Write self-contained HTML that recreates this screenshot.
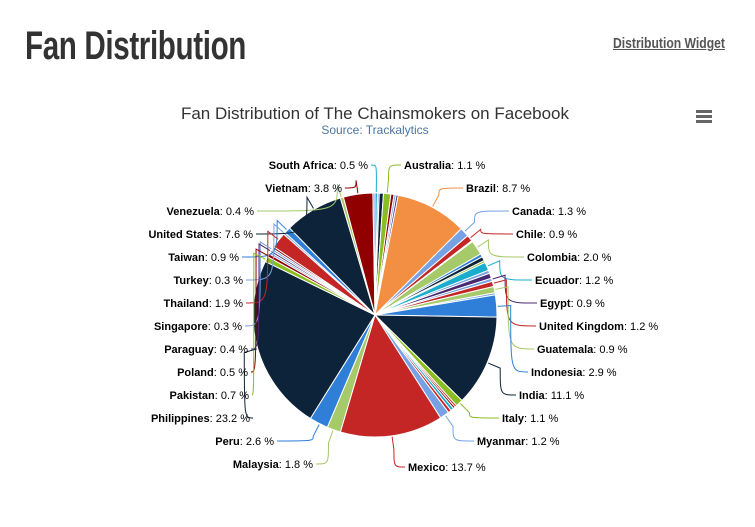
<!DOCTYPE html>
<html><head><meta charset="utf-8"><style>
body{margin:0;width:755px;height:527px;background:#fff;overflow:hidden;font-family:"Liberation Sans",sans-serif;position:relative}
h1{position:absolute;left:25px;top:24px;margin:0;font-family:"Liberation Sans Narrow","Liberation Sans",sans-serif;font-stretch:condensed;font-size:40px;font-weight:bold;color:#333;letter-spacing:-0.5px;transform:scaleX(0.74);transform-origin:left}
a{position:absolute;left:613px;top:35px;font-family:"Liberation Sans Narrow","Liberation Sans",sans-serif;font-stretch:condensed;font-weight:bold;font-size:15px;color:#555;text-decoration:underline;transform:scaleX(0.81);transform-origin:left}
svg{position:absolute;left:0;top:0}
text{font-family:"Liberation Sans",sans-serif;font-size:11px;fill:#000}
text tspan.b{font-weight:bold}
</style></head><body>
<h1>Fan Distribution</h1>
<a>Distribution Widget</a>
<svg width="755" height="527" id="s">
<text x="375" y="119" text-anchor="middle" style="font-size:17px;fill:#333">Fan Distribution of The Chainsmokers on Facebook</text>
<text x="375" y="134" text-anchor="middle" style="font-size:12px;fill:#4d759e">Source: Trackalytics</text>
<rect x="696" y="110" width="16" height="3" fill="#666"/><rect x="696" y="115" width="16" height="3" fill="#666"/><rect x="696" y="120" width="16" height="3" fill="#666"/>
<g id="pie"></g><g id="con"></g>
<g>
<text x="404" y="169"><tspan class="b">Australia</tspan>: 1.1 %</text>
<text x="466" y="192"><tspan class="b">Brazil</tspan>: 8.7 %</text>
<text x="512" y="215"><tspan class="b">Canada</tspan>: 1.3 %</text>
<text x="516" y="238"><tspan class="b">Chile</tspan>: 0.9 %</text>
<text x="527" y="261"><tspan class="b">Colombia</tspan>: 2.0 %</text>
<text x="535" y="284"><tspan class="b">Ecuador</tspan>: 1.2 %</text>
<text x="540" y="307"><tspan class="b">Egypt</tspan>: 0.9 %</text>
<text x="539" y="330"><tspan class="b">United Kingdom</tspan>: 1.2 %</text>
<text x="537" y="353"><tspan class="b">Guatemala</tspan>: 0.9 %</text>
<text x="531" y="376"><tspan class="b">Indonesia</tspan>: 2.9 %</text>
<text x="519" y="399"><tspan class="b">India</tspan>: 11.1 %</text>
<text x="502" y="422"><tspan class="b">Italy</tspan>: 1.1 %</text>
<text x="477" y="445"><tspan class="b">Myanmar</tspan>: 1.2 %</text>
<text x="408" y="471"><tspan class="b">Mexico</tspan>: 13.7 %</text>
</g>
<g text-anchor="end">
<text x="368" y="169"><tspan class="b">South Africa</tspan>: 0.5 %</text>
<text x="342" y="192"><tspan class="b">Vietnam</tspan>: 3.8 %</text>
<text x="254" y="215"><tspan class="b">Venezuela</tspan>: 0.4 %</text>
<text x="253" y="238"><tspan class="b">United States</tspan>: 7.6 %</text>
<text x="239" y="261"><tspan class="b">Taiwan</tspan>: 0.9 %</text>
<text x="243" y="284"><tspan class="b">Turkey</tspan>: 0.3 %</text>
<text x="243" y="307"><tspan class="b">Thailand</tspan>: 1.9 %</text>
<text x="242" y="330"><tspan class="b">Singapore</tspan>: 0.3 %</text>
<text x="248" y="353"><tspan class="b">Paraguay</tspan>: 0.4 %</text>
<text x="248" y="376"><tspan class="b">Poland</tspan>: 0.5 %</text>
<text x="249" y="399"><tspan class="b">Pakistan</tspan>: 0.7 %</text>
<text x="250" y="422"><tspan class="b">Philippines</tspan>: 23.2 %</text>
<text x="274" y="445"><tspan class="b">Peru</tspan>: 2.6 %</text>
<text x="313" y="468"><tspan class="b">Malaysia</tspan>: 1.8 %</text>
</g>
</svg>
<script>
var N='#0d233a',R='#c42525',D='#910000',G='#8bbc21',L='#a6c96a',O='#f28f43',B='#2f7ed8',LB='#77a1e5',C='#1aadce',P='#492970';
var sl=[[0,1.2,C],[1.2,2,LB],[2,4,N],[4,7.5,G],[7.5,9,D],[9,10,LB],[10,11,P],[11,45,O],[45,49.5,LB],[49.5,52.5,R],[52.5,53,'#fff'],[53,60,L],[60,61.5,B],[61.5,63.5,N],[63.5,64.5,G],[64.5,68.5,C],[68.5,70,LB],[70,72.5,P],[72.5,74,LB],[74,76.5,R],[76.5,79.5,L],[79.5,80.5,LB],[80.5,91,B],[91,134.5,N],[134.5,138,G],[138,139,R],[139,140,D],[140,141.5,C],[141.5,143,R],[143,147.5,LB],[147.5,196.5,R],[196.5,203,L],[203,212,B],[212,296,N],[296,298.5,G],[298.5,300,D],[300,301,LB],[301,302,P],[302,303,LB],[303,304,D],[304,311.5,R],[311.5,312.5,LB],[312.5,315.5,B],[315.5,343.5,N],[343.5,345,L],[345,359,D],[359,360,LB]];
var cx=375,cy=315,r=122,ns='http://www.w3.org/2000/svg';
function pt(a,rr){var t=a*Math.PI/180;return [cx+rr*Math.sin(t),cy-rr*Math.cos(t)];}
var g=document.getElementById('pie');
sl.forEach(function(s){var a=pt(s[0],r),b=pt(s[1],r),lg=(s[1]-s[0])>180?1:0;
var p=document.createElementNS(ns,'path');p.setAttribute('d','M'+cx+','+cy+'L'+a[0]+','+a[1]+'A'+r+','+r+' 0 '+lg+' 1 '+b[0]+','+b[1]+'Z');
p.setAttribute('fill',s[2]);p.setAttribute('stroke','#fff');p.setAttribute('stroke-width','1');g.appendChild(p);});
var cons=[[401,165,5.7,G],[463,188,28,O],[509,211,47,LB],[513,234,51,R],[524,257,56.5,L],[532,280,66.5,C],[537,303,73,P],[536,326,75,R],[534,349,78,L],[528,372,86,B],[516,395,113,N],[499,418,136,G],[474,441,145,LB],[405,467,172,R],
[371,165,0.6,C],[345,188,352,D],[257,211,344,L],[256,234,330,N],[242,257,314,B],[246,280,312,LB],[246,303,308,R],[245,326,302.5,LB],[251,349,301.5,P],[251,372,299,D],[252,395,297,G],[253,418,254,N],[277,441,207,B],[316,464,200,L]];
var cg=document.getElementById('con');
cons.forEach(function(c){var m=pt(c[2],r+14),e=pt(c[2],r+1);
var p=document.createElementNS(ns,'path');
p.setAttribute('d','M'+c[0]+','+c[1]+'C'+m[0]+','+c[1]+' '+m[0]+','+c[1]+' '+m[0]+','+m[1]+'L'+e[0]+','+e[1]);
p.setAttribute('fill','none');p.setAttribute('stroke',c[3]);p.setAttribute('stroke-width','1');cg.appendChild(p);});
</script>
</body></html>
